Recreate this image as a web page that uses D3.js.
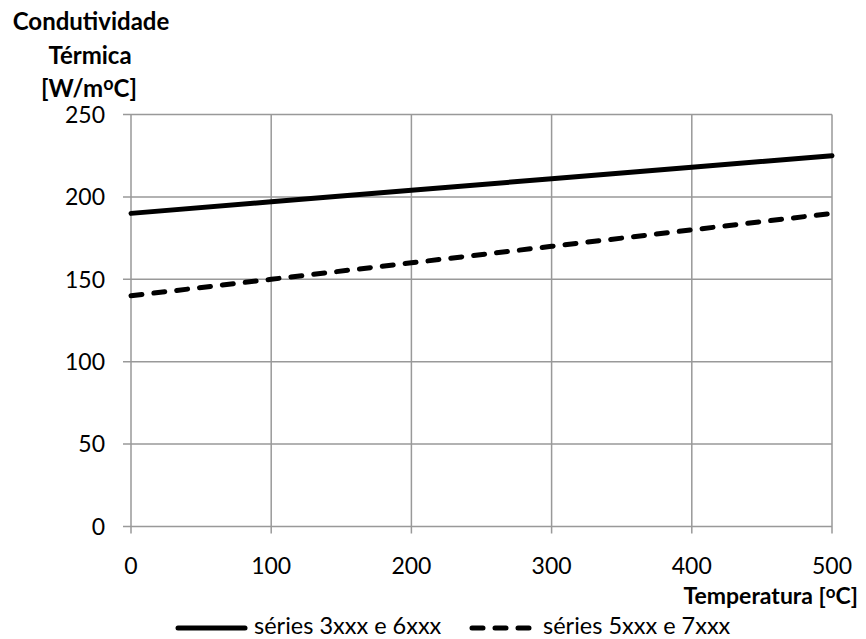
<!DOCTYPE html>
<html>
<head>
<meta charset="utf-8">
<script src="https://cdn.jsdelivr.net/npm/d3@7"></script>
<style>
  body { margin: 0; background: #fff; }
  text { font-family: Lato, "Open Sans", sans-serif; fill: #000; }
</style>
</head>
<body>
<div id="chart"></div>
<script>
// data
const temperatures = [0, 100, 200, 300, 400, 500];
const series36 = [190, 197, 204, 211, 218, 225];   // séries 3xxx e 6xxx
const series57 = [140, 150, 160, 170, 180, 190];   // séries 5xxx e 7xxx
const xTicks = [0, 100, 200, 300, 400, 500];
const yTicks = [0, 50, 100, 150, 200, 250];
const seriesNames = ["séries 3xxx e 6xxx", "séries 5xxx e 7xxx"];

const width = 866, height = 639;
const margin = { left: 131, right: 34, top: 114.5, bottom: 112.5 };

const svg = d3.select('#chart').append('svg')
    .attr('width', width)
    .attr('height', height);

const x = d3.scaleLinear().domain([0, 500]).range([margin.left, width - margin.right]);
const y = d3.scaleLinear().domain([0, 250]).range([height - margin.bottom, margin.top]);

// grid
svg.append('g').selectAll('line.v')
    .data(xTicks)
    .enter().append('line')
    .attr('x1', d => x(d)).attr('x2', d => x(d))
    .attr('y1', y(250)).attr('y2', y(0) + 7)
    .attr('stroke', '#999').attr('stroke-width', 1.5);

svg.append('g').selectAll('line.h')
    .data(yTicks)
    .enter().append('line')
    .attr('x1', x(0) - 8).attr('x2', x(500))
    .attr('y1', d => y(d)).attr('y2', d => y(d))
    .attr('stroke', '#999').attr('stroke-width', 1.5);

// tick labels
svg.append('g').selectAll('text')
    .data(yTicks)
    .enter().append('text')
    .attr('x', 105)
    .attr('y', d => y(d))
    .attr('dy', '0.36em')
    .attr('text-anchor', 'end')
    .style('font-size', '23px')
    .text(d => d);

svg.append('g').selectAll('text')
    .data(xTicks)
    .enter().append('text')
    .attr('x', d => x(d))
    .attr('y', 574)
    .attr('text-anchor', 'middle')
    .style('font-size', '23px')
    .text(d => d);

// lines
const line = d3.line()
    .x((d, i) => x(temperatures[i]))
    .y(d => y(d));

svg.append('path')
    .datum(series36)
    .attr('d', line)
    .attr('fill', 'none')
    .attr('stroke', '#000')
    .attr('stroke-width', 5)
    .attr('stroke-linecap', 'round');

svg.append('path')
    .datum(series57)
    .attr('d', line)
    .attr('fill', 'none')
    .attr('stroke', '#000')
    .attr('stroke-width', 5)
    .attr('stroke-linecap', 'round')
    .attr('stroke-dasharray', '11,12');

// y axis title
const yTitle = svg.append('text')
    .attr('text-anchor', 'middle')
    .style('font-size', '24px')
    .style('font-weight', 'bold');
yTitle.append('tspan').attr('x', 91).attr('y', 30).text('Condutividade');
yTitle.append('tspan').attr('x', 90).attr('y', 64).text('Térmica');
const unit = svg.append('text')
    .attr('x', 89).attr('y', 97)
    .attr('text-anchor', 'middle')
    .style('font-size', '24px')
    .style('font-weight', 'bold');
unit.append('tspan').text('[W/m');
unit.append('tspan').attr('dy', -7).style('font-size', '18px').text('o');
unit.append('tspan').attr('dy', 7).text('C]');

// x axis title
const xTitle = svg.append('text')
    .attr('x', 858).attr('y', 604)
    .attr('text-anchor', 'end')
    .style('font-size', '23px')
    .style('font-weight', 'bold');
xTitle.append('tspan').text('Temperatura [');
xTitle.append('tspan').attr('dy', -6).style('font-size', '17px').text('o');
xTitle.append('tspan').attr('dy', 6).text('C]');

// legend
const legend = [
  { name: seriesNames[0], x1: 178, x2: 245, dash: null, tx: 254 },
  { name: seriesNames[1], x1: 472, x2: 532, dash: '11,12', tx: 543 }
];
legend.forEach(l => {
  svg.append('line')
      .attr('x1', l.x1).attr('x2', l.x2)
      .attr('y1', 628).attr('y2', 628)
      .attr('stroke', '#000').attr('stroke-width', 5)
      .attr('stroke-linecap', 'round')
      .attr('stroke-dasharray', l.dash);
  svg.append('text')
      .attr('x', l.tx).attr('y', 634)
      .style('font-size', '23.5px')
      .text(l.name);
});
</script>
</body>
</html>
